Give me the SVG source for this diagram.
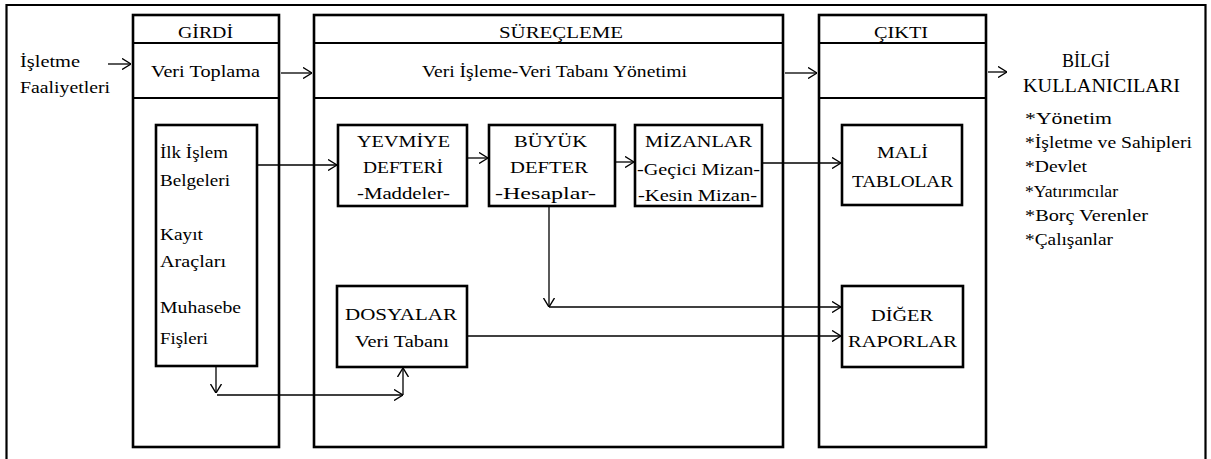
<svg xmlns="http://www.w3.org/2000/svg" width="1211" height="459" viewBox="0 0 1211 459" font-family="'Liberation Serif', 'Times New Roman', serif">
<defs>
<marker id="arr" viewBox="0 0 9 12" refX="9" refY="6" markerWidth="9" markerHeight="12" markerUnits="userSpaceOnUse" orient="auto">
<path d="M0,0.5 L9,6 L0,11.5" fill="none" stroke="#000" stroke-width="1.4"/>
</marker>
</defs>
<style>
.frame{fill:none;stroke:#000;stroke-width:2.2}
.col{fill:#fff;stroke:#000;stroke-width:2.6}
.div{stroke:#000;stroke-width:2.2}
.box{fill:#fff;stroke:#000;stroke-width:2.6}
.conn{fill:none;stroke:#000;stroke-width:1.3;marker-end:url(#arr)}
text{font-family:'Liberation Serif','Times New Roman',serif;font-size:17px;fill:#000}
.big{font-size:18px}
</style>
<rect width="1211" height="459" fill="#fff"/>
<path class="frame" d="M6.5,462 V5 H1205.5 V462"/>

<g id="left-label">
<text x="20" y="67" textLength="60" lengthAdjust="spacingAndGlyphs">İşletme</text>
<text x="20" y="93" textLength="90" lengthAdjust="spacingAndGlyphs">Faaliyetleri</text>
</g>

<g id="girdi">
<rect class="col" x="133" y="15" width="146" height="432"/>
<line class="div" x1="133" y1="43" x2="279" y2="43"/>
<line class="div" x1="133" y1="98" x2="279" y2="98"/>
<text x="178" y="38" textLength="55" lengthAdjust="spacingAndGlyphs">GİRDİ</text>
<text x="151" y="77" textLength="109" lengthAdjust="spacingAndGlyphs">Veri Toplama</text>
</g>

<g id="surecleme">
<rect class="col" x="314" y="15" width="469" height="432"/>
<line class="div" x1="314" y1="43" x2="783" y2="43"/>
<line class="div" x1="314" y1="98" x2="783" y2="98"/>
<text x="499" y="38" textLength="124" lengthAdjust="spacingAndGlyphs">SÜREÇLEME</text>
<text x="422" y="77" textLength="265" lengthAdjust="spacingAndGlyphs">Veri İşleme-Veri Tabanı Yönetimi</text>
</g>

<g id="cikti">
<rect class="col" x="819" y="15" width="167" height="432"/>
<line class="div" x1="819" y1="43" x2="986" y2="43"/>
<line class="div" x1="819" y1="98" x2="986" y2="98"/>
<text x="874" y="38" textLength="54" lengthAdjust="spacingAndGlyphs">ÇIKTI</text>
</g>

<g id="bilgi-kullanicilari">
<text class="big" x="1062" y="67" textLength="48" lengthAdjust="spacingAndGlyphs">BİLGİ</text>
<text class="big" x="1023" y="92" textLength="157" lengthAdjust="spacingAndGlyphs">KULLANICILARI</text>
<text x="1025" y="124" textLength="87" lengthAdjust="spacingAndGlyphs">*Yönetim</text>
<text x="1025" y="148" textLength="167" lengthAdjust="spacingAndGlyphs">*İşletme ve Sahipleri</text>
<text x="1025" y="172" textLength="62" lengthAdjust="spacingAndGlyphs">*Devlet</text>
<text x="1025" y="197" textLength="93" lengthAdjust="spacingAndGlyphs">*Yatırımcılar</text>
<text x="1025" y="221" textLength="123" lengthAdjust="spacingAndGlyphs">*Borç Verenler</text>
<text x="1025" y="245" textLength="88" lengthAdjust="spacingAndGlyphs">*Çalışanlar</text>
</g>

<g id="ilk-islem">
<rect class="box" x="156" y="125" width="101" height="241"/>
<text x="160" y="158" textLength="68" lengthAdjust="spacingAndGlyphs">İlk İşlem</text>
<text x="160" y="186" textLength="70" lengthAdjust="spacingAndGlyphs">Belgeleri</text>
<text x="160" y="240" textLength="43" lengthAdjust="spacingAndGlyphs">Kayıt</text>
<text x="160" y="267" textLength="66" lengthAdjust="spacingAndGlyphs">Araçları</text>
<text x="160" y="313" textLength="81" lengthAdjust="spacingAndGlyphs">Muhasebe</text>
<text x="160" y="344" textLength="48" lengthAdjust="spacingAndGlyphs">Fişleri</text>
</g>

<g id="yevmiye">
<rect class="box" x="338" y="125" width="129" height="81"/>
<text x="357" y="147" textLength="93" lengthAdjust="spacingAndGlyphs">YEVMİYE</text>
<text x="363" y="173" textLength="80" lengthAdjust="spacingAndGlyphs">DEFTERİ</text>
<text x="357" y="199" textLength="93" lengthAdjust="spacingAndGlyphs">-Maddeler-</text>
</g>

<g id="buyuk-defter">
<rect class="box" x="489" y="125" width="126" height="81"/>
<text x="514" y="147" textLength="73" lengthAdjust="spacingAndGlyphs">BÜYÜK</text>
<text x="510" y="173" textLength="78" lengthAdjust="spacingAndGlyphs">DEFTER</text>
<text x="495" y="199" textLength="101" lengthAdjust="spacingAndGlyphs">-Hesaplar-</text>
</g>

<g id="mizanlar">
<rect class="box" x="635" y="125" width="127" height="81"/>
<text x="645" y="147" textLength="107" lengthAdjust="spacingAndGlyphs">MİZANLAR</text>
<text x="637" y="175" textLength="123" lengthAdjust="spacingAndGlyphs">-Geçici Mizan-</text>
<text x="638" y="201" textLength="119" lengthAdjust="spacingAndGlyphs">-Kesin Mizan-</text>
</g>

<g id="mali-tablolar">
<rect class="box" x="842" y="125" width="120" height="80"/>
<text x="877" y="158" textLength="51" lengthAdjust="spacingAndGlyphs">MALİ</text>
<text x="852" y="187" textLength="101" lengthAdjust="spacingAndGlyphs">TABLOLAR</text>
</g>

<g id="dosyalar">
<rect class="box" x="337" y="286" width="130" height="81"/>
<text x="345" y="320" textLength="112" lengthAdjust="spacingAndGlyphs">DOSYALAR</text>
<text x="355" y="347" textLength="94" lengthAdjust="spacingAndGlyphs">Veri Tabanı</text>
</g>

<g id="diger-raporlar">
<rect class="box" x="842" y="286" width="121" height="81"/>
<text x="871" y="321" textLength="62" lengthAdjust="spacingAndGlyphs">DİĞER</text>
<text x="848" y="347" textLength="109" lengthAdjust="spacingAndGlyphs">RAPORLAR</text>
</g>

<g id="connectors">
<line class="conn" x1="108" y1="64" x2="131" y2="64"/>
<line class="conn" x1="281" y1="73" x2="312" y2="73"/>
<line class="conn" x1="785" y1="73" x2="817" y2="73"/>
<line class="conn" x1="988" y1="72" x2="1007" y2="72"/>
<line class="conn" x1="258" y1="165" x2="337" y2="165"/>
<line class="conn" x1="468" y1="158" x2="488" y2="158"/>
<line class="conn" x1="616" y1="162" x2="634" y2="162"/>
<line class="conn" x1="763" y1="163" x2="841" y2="163"/>
<line class="conn" x1="549" y1="207" x2="549" y2="307"/>
<line class="conn" x1="549" y1="307" x2="841" y2="307"/>
<line class="conn" x1="468" y1="336" x2="841" y2="336"/>
<line class="conn" x1="216" y1="367" x2="216" y2="393"/>
<line class="conn" x1="217" y1="395" x2="403" y2="395"/>
<line class="conn" x1="403" y1="395" x2="403" y2="368"/>
</g>
</svg>
